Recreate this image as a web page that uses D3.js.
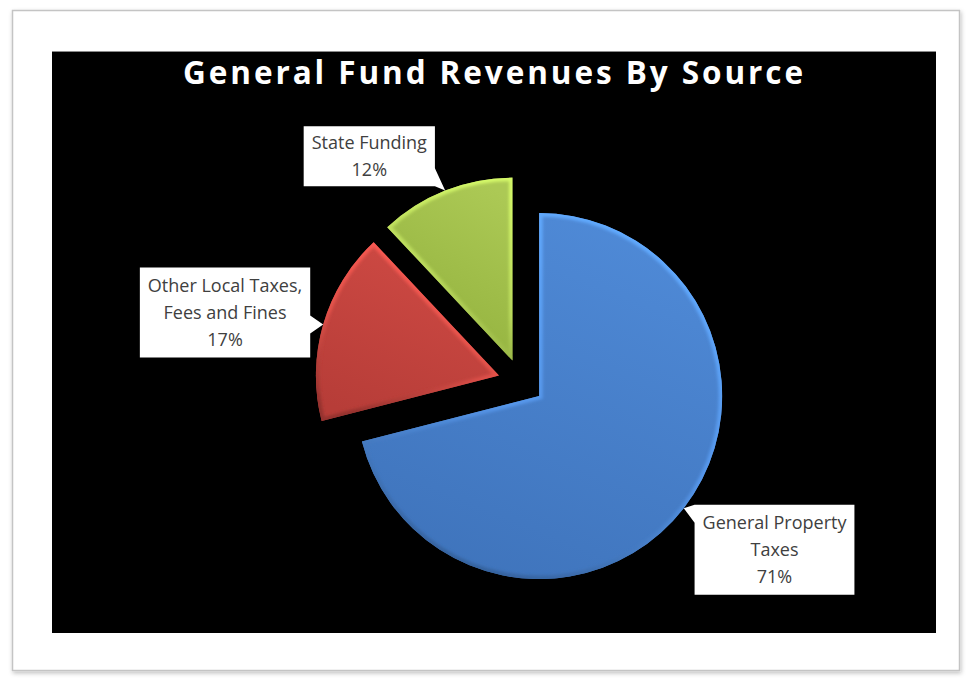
<!DOCTYPE html>
<html>
<head>
<meta charset="utf-8">
<script src="https://cdn.jsdelivr.net/npm/d3@7"></script>
<style>
  html, body { margin: 0; padding: 0; background: #ffffff; }
  svg { display: block; }
</style>
</head>
<body>
<svg id="chart" width="969" height="685"></svg>
<script>
// Revenue sources and their share of the general fund (percent)
const categories = ["General Property Taxes", "Other Local Taxes, Fees and Fines", "State Funding"];
const shares = [71, 17, 12];
const labelLines = [["General Property", "Taxes"], ["Other Local Taxes,", "Fees and Fines"], ["State Funding"]];
const chartTitle = "General Fund Revenues By Source";

// Slice styling: light (upper) and dark (lower) tones for each source
const sliceLight = ["#4f8ad7", "#cf4a44", "#acc955"];
const sliceDark = ["#3f74bc", "#b73d38", "#91b03c"];

// Layout
const W = 969, H = 685;
const plot = { x: 52, y: 51, w: 884, h: 582 };
const cx = 521, cy = 382, radius = 183, explode = 23;
// Callout placement: distance from pie centre and angular nudge (degrees) from slice bisector
const calloutRadius = [304, 304, 272];
const calloutTurn = [-4.3, -3, -12.3];

const svg = d3.select("#chart");
const defs = svg.append("defs");

// Frame shadow
const sh = defs.append("filter").attr("id", "frameShadow").attr("x", "-5%").attr("y", "-5%").attr("width", "110%").attr("height", "110%");
sh.append("feDropShadow").attr("dx", 1).attr("dy", 2).attr("stdDeviation", 2).attr("flood-color", "#000").attr("flood-opacity", 0.25);

const soft = defs.append("filter").attr("id", "bevelBlur");
soft.append("feGaussianBlur").attr("stdDeviation", 1.6);

// Outer frame and chart background
svg.append("rect").attr("x", 12.5).attr("y", 10.5).attr("width", 947).attr("height", 660)
  .attr("fill", "#ffffff").attr("stroke", "#c4c4c4").attr("stroke-width", 1.5)
  .attr("filter", "url(#frameShadow)");
svg.append("rect").attr("x", plot.x).attr("y", plot.y).attr("width", plot.w).attr("height", plot.h)
  .attr("fill", "#000000");
svg.append("line").attr("x1", plot.x).attr("x2", plot.x + plot.w).attr("y1", plot.y + 0.5).attr("y2", plot.y + 0.5)
  .attr("stroke", "#8a8a8a").attr("stroke-width", 1);

// Title
svg.append("text")
  .attr("x", (183 + 803) / 2).attr("y", 84)
  .attr("text-anchor", "middle")
  .attr("font-family", "'Open Sans', 'DejaVu Sans', sans-serif")
  .attr("font-weight", 700).attr("font-size", 31.5)
  .attr("fill", "#ffffff")
  .attr("textLength", 620).attr("lengthAdjust", "spacing")
  .text(chartTitle);

// Pie geometry
const pie = d3.pie().sort(null).value(d => d).startAngle(0).endAngle(2 * Math.PI);
const arcs = pie(shares);
const arcGen = d3.arc().innerRadius(0).outerRadius(radius);
const polar = (a, r) => [Math.sin(a) * r, -Math.cos(a) * r];

// Gradients per slice
arcs.forEach((a, i) => {
  const g = defs.append("linearGradient").attr("id", "fill" + i)
    .attr("x1", "0.7").attr("y1", "0").attr("x2", "0.3").attr("y2", "1");
  g.append("stop").attr("offset", "0%").attr("stop-color", sliceLight[i]);
  g.append("stop").attr("offset", "100%").attr("stop-color", sliceDark[i]);
  const s = defs.append("linearGradient").attr("id", "rim" + i)
    .attr("x1", "0.7").attr("y1", "0").attr("x2", "0.3").attr("y2", "1");
  s.append("stop").attr("offset", "0%").attr("stop-color", d3.color(sliceLight[i]).brighter(0.6));
  s.append("stop").attr("offset", "55%").attr("stop-color", d3.color(sliceLight[i]).brighter(0.25));
  s.append("stop").attr("offset", "100%").attr("stop-color", d3.color(sliceDark[i]).darker(0.6));
  defs.append("clipPath").attr("id", "clip" + i)
    .append("path").attr("d", arcGen(a));
});

const slices = svg.append("g").attr("transform", `translate(${cx},${cy})`)
  .selectAll("g.slice").data(arcs).join("g")
  .attr("class", "slice")
  .attr("transform", d => {
    const [ox, oy] = polar((d.startAngle + d.endAngle) / 2, explode);
    return `translate(${ox},${oy})`;
  });

slices.append("path")
  .attr("d", arcGen)
  .attr("fill", (d, i) => `url(#fill${i})`);

// Soft bevel along the slice edges
slices.append("g").attr("clip-path", (d, i) => `url(#clip${i})`)
  .append("path")
  .attr("d", arcGen)
  .attr("fill", "none")
  .attr("stroke", (d, i) => `url(#rim${i})`)
  .attr("stroke-width", 7)
  .attr("filter", "url(#bevelBlur)");

// Callout labels
const labelFont = "'Open Sans', 'DejaVu Sans', sans-serif";
const fontSize = 18, lineH = 27;
const labels = svg.append("g");

arcs.forEach((a, i) => {
  const mid = (a.startAngle + a.endAngle) / 2;
  const [ex, ey] = polar(mid, explode);
  const [tx, ty] = polar(mid, radius);
  const tip = [cx + ex + tx, cy + ey + ty];
  const [lx, ly] = polar(mid + calloutTurn[i] * Math.PI / 180, calloutRadius[i]);
  const center = [cx + lx, cy + ly];

  const lines = labelLines[i].concat([shares[i] + "%"]);
  const grp = labels.append("g");
  const bg = grp.append("path");
  const txt = grp.append("text")
    .attr("text-anchor", "middle")
    .attr("font-family", labelFont).attr("font-size", fontSize)
    .attr("fill", "#404040");
  const n = lines.length;
  lines.forEach((ln, k) => {
    txt.append("tspan")
      .attr("x", center[0])
      .attr("y", center[1] + (k - (n - 1) / 2) * lineH + fontSize * 0.36)
      .text(ln);
  });
  let maxW = 0;
  txt.selectAll("tspan").each(function () { maxW = Math.max(maxW, this.getComputedTextLength()); });
  const bw = maxW + 16, bh = n * 30;
  const x0 = center[0] - bw / 2, x1 = center[0] + bw / 2;
  const y0 = center[1] - bh / 2, y1 = center[1] + bh / 2;

  // Pointer base on the box side facing the slice
  const half = 9;
  const clamp = (v, lo, hi) => Math.max(lo, Math.min(hi, v));
  let pts;
  const dxOut = tip[0] < x0 ? x0 - tip[0] : tip[0] > x1 ? tip[0] - x1 : 0;
  const dyOut = tip[1] < y0 ? y0 - tip[1] : tip[1] > y1 ? tip[1] - y1 : 0;
  if (dxOut >= dyOut) {
    const sx = tip[0] < x0 ? x0 : x1;
    const c = clamp(tip[1], y0 + half, y1 - half);
    pts = [[sx, c - half], tip, [sx, c + half]];
  } else {
    const sy = tip[1] < y0 ? y0 : y1;
    const c = clamp(tip[0], x0 + half, x1 - half);
    pts = [[c - half, sy], tip, [c + half, sy]];
  }
  const p = d3.path();
  p.rect(x0, y0, bw, bh);
  p.moveTo(pts[0][0], pts[0][1]);
  p.lineTo(pts[1][0], pts[1][1]);
  p.lineTo(pts[2][0], pts[2][1]);
  p.closePath();
  bg.attr("d", p.toString()).attr("fill", "#ffffff").attr("stroke", "none");
});
</script>
</body>
</html>
